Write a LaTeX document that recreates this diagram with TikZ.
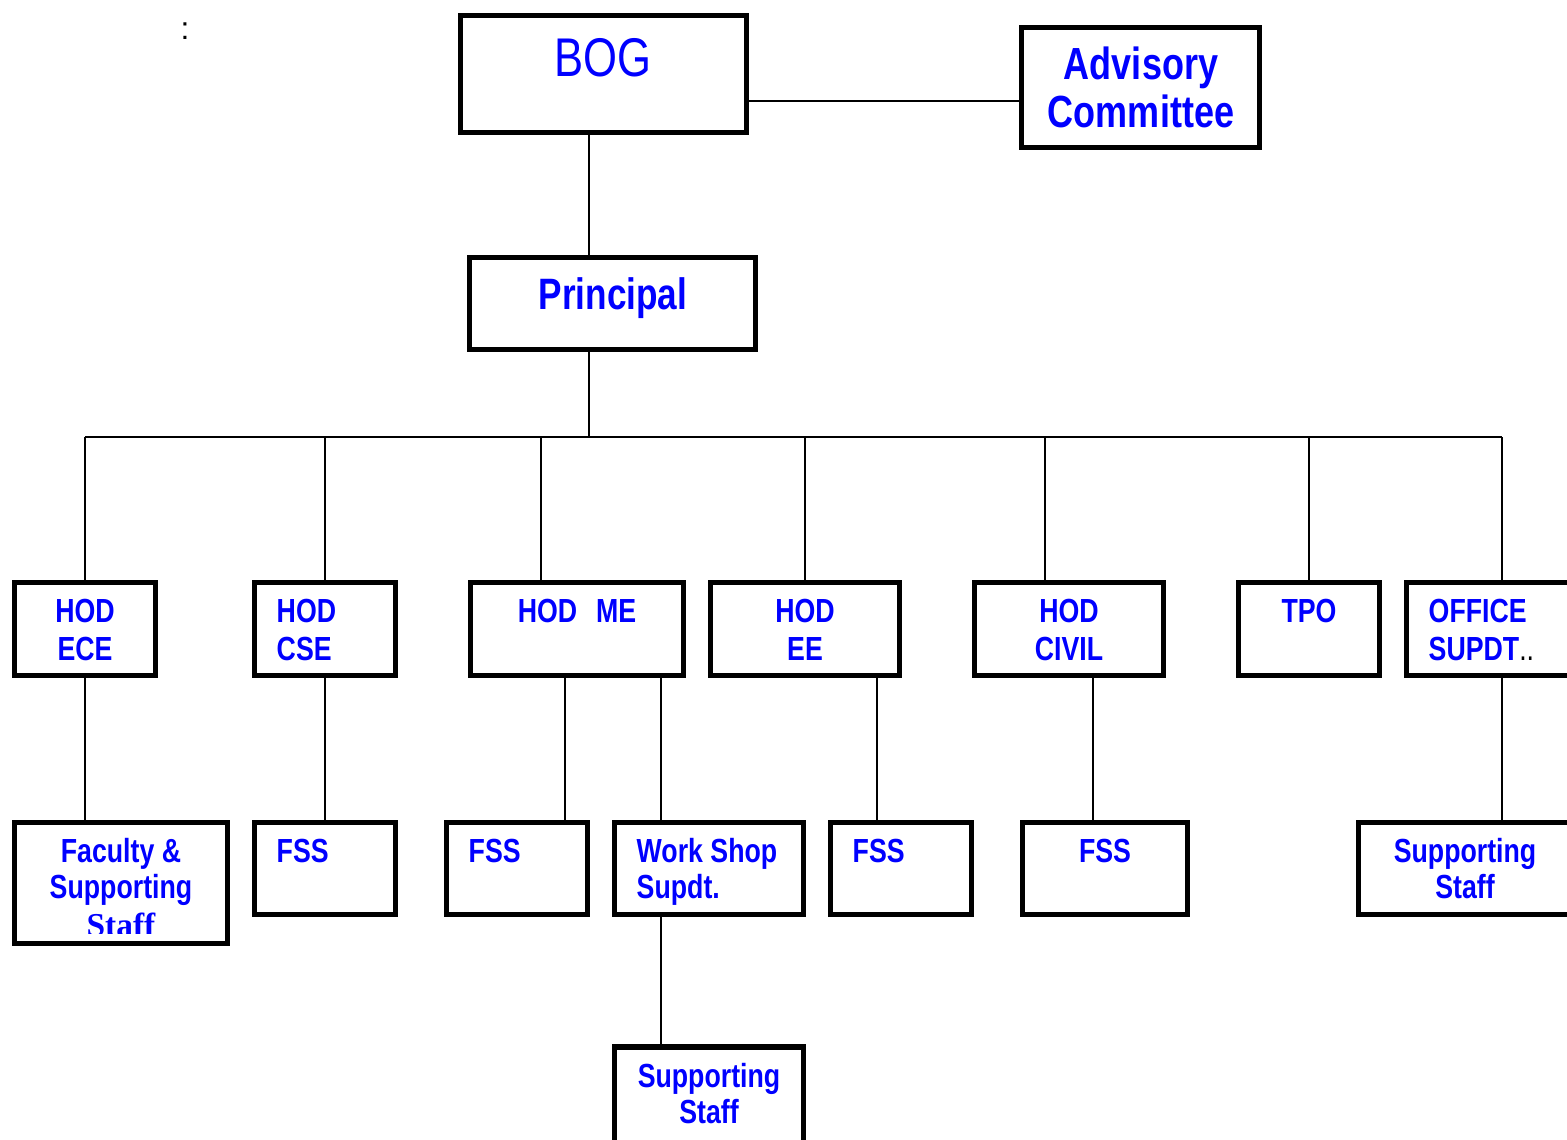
\documentclass[tikz,border=0pt]{standalone}
\usepackage{fontspec}
\setmainfont{Liberation Sans}
\newfontfamily\narrowfont{Liberation Sans}[FakeStretch=0.8]
\newfontfamily\timesfont{Liberation Serif}
\usetikzlibrary{positioning}
\definecolor{orgblue}{RGB}{0,0,255}

\begin{document}
\begin{tikzpicture}[x=0.01cm, y=-0.01cm]
        \tikzstyle{box}=[draw, line width=0.055cm, inner sep=0pt, minimum height=0.93cm]
        \tikzstyle{txt}=[inner sep=0pt, anchor=north, text=orgblue, align=center,
                         font=\narrowfont\bfseries\fontsize{9.5}{10.8}\selectfont]
        \tikzstyle{txtl}=[txt, anchor=north west, align=left]
        \tikzstyle{link}=[line width=0.02cm]

        \useasboundingbox (0,0) rectangle (1567,1139);

        % top
        \node[box, minimum width=2.86cm, minimum height=1.17cm] (bog) at (603.5,74) {};
        \node[box, minimum width=2.38cm, minimum height=1.20cm] (adv) at (1140.5,87.5) {};
        \node[box, minimum width=2.86cm, minimum height=0.92cm] (prin) at (612.5,303.5) {};

        \node (colon) [font=\fontsize{9}{10}\selectfont] at (185,31) {:};
        \node[txt, font=\narrowfont\fontsize{15.5}{18}\selectfont] (bog t) at (603,38) {BOG};
        \node[txt, font=\narrowfont\bfseries\fontsize{12.8}{13.6}\selectfont] (adv t) at (1141,46) {Advisory\\Committee};
        \node[txt, font=\narrowfont\bfseries\fontsize{12.5}{14}\selectfont] (prin t) at (613,277) {Principal};

        % heads
        \node[box, minimum width=1.41cm] (ece)    at (85,629)   {};
        \node[box, minimum width=1.41cm] (cse)    at (325,629)  {};
        \node[box, minimum width=2.13cm] (me)     at (577,629)  {};
        \node[box, minimum width=1.89cm] (ee)     at (805,629)  {};
        \node[box, minimum width=1.89cm] (civil)  at (1069,629) {};
        \node[box, minimum width=1.41cm] (tpo)    at (1309,629) {};
        \node[box, minimum width=1.91cm] (office) at (1502,629) {};

        \node[txt]  (ece t)    at (85,598)   {HOD\\ECE};
        \node[txtl] (cse t)    at (276,598)  {HOD\\CSE};
        \node[txt]  (me t)     at (577,598)  {HOD\hspace{0.19cm}ME};
        \node[txt]  (ee t)     at (805,598)  {HOD\\EE};
        \node[txt]  (civil t)  at (1069,598) {HOD\\CIVIL};
        \node[txt]  (tpo t)    at (1309,598) {TPO};
        \node[txtl] (office t) at (1428,598) {OFFICE\\SUPDT{\mdseries\color{black}..}};

        % staff
        \node[box, minimum width=2.13cm, minimum height=1.21cm] (fac) at (121,883) {};
        \node[box, minimum width=1.41cm, minimum height=0.92cm] (fss1) at (325,868.5)  {};
        \node[box, minimum width=1.41cm, minimum height=0.92cm] (fss2) at (517,868.5)  {};
        \node[box, minimum width=1.89cm, minimum height=0.92cm] (ws)   at (709,868.5)  {};
        \node[box, minimum width=1.41cm, minimum height=0.92cm] (fss3) at (901,868.5)  {};
        \node[box, minimum width=1.65cm, minimum height=0.92cm] (fss4) at (1105,868.5) {};
        \node[box, minimum width=2.39cm, minimum height=0.92cm] (sup1) at (1478,868.5) {};
        \node[box, minimum width=1.89cm, minimum height=1.10cm] (sup2) at (709,1102)   {};

        \begin{scope}
            \clip (20,825) rectangle (222,933);
            \node[txt, font=\narrowfont\bfseries\fontsize{9.5}{10.2}\selectfont] (fac t) at (121,838)
                {Faculty \&\\Supporting\\[0.02cm]{\timesfont Staff}};
        \end{scope}
        \node[txtl] (fss1 t) at (276,838) {FSS};
        \node[txtl] (fss2 t) at (468,838) {FSS};
        \node[txtl, font=\narrowfont\bfseries\fontsize{9.5}{10.2}\selectfont] (ws t) at (636,838) {Work Shop\\Supdt.};
        \node[txtl] (fss3 t) at (852,838) {FSS};
        \node[txt]  (fss4 t) at (1105,838) {FSS};
        \node[txt, font=\narrowfont\bfseries\fontsize{9.5}{10.2}\selectfont] (sup1 t) at (1465,838) {Supporting\\Staff};
        \node[txt, font=\narrowfont\bfseries\fontsize{9.5}{10}\selectfont] (sup2 t) at (709,1063) {Supporting\\Staff};

        % connectors
        \coordinate (spine) at (589,437);
        \coordinate (tie) at (880,101);
        \draw[link] (bog.south -| spine) -- (prin.north -| spine);
        \draw[link] (bog.east |- tie) -- (adv.west |- tie);
        \draw[link] (prin.south -| spine) -- (spine);
        \draw[link] (ece.north |- spine) -- (office.north |- spine);
        \foreach \n in {ece,cse,ee,tpo,office}
            \draw[link] (\n.north |- spine) -- (\n.north);
        \draw[link] ([xshift=-0.36cm]me.north |- spine) -- ([xshift=-0.36cm]me.north);
        \draw[link] ([xshift=-0.24cm]civil.north |- spine) -- ([xshift=-0.24cm]civil.north);

        \draw[link] (ece.south) -- (ece.south |- fac.north);
        \draw[link] (cse.south) -- (fss1.north);
        \draw[link] ([xshift=-0.12cm]me.south) -- ([xshift=-0.12cm]me.south |- fss2.north);
        \draw[link] ([xshift=0.84cm]me.south) -- ([xshift=0.84cm]me.south |- ws.north);
        \draw[link] ([xshift=0.72cm]ee.south) -- ([xshift=0.72cm]ee.south |- fss3.north);
        \draw[link] ([xshift=0.24cm]civil.south) -- ([xshift=0.24cm]civil.south |- fss4.north);
        \draw[link] (office.south) -- (office.south |- sup1.north);
        \draw[link] ([xshift=-0.48cm]ws.south) -- ([xshift=-0.48cm]ws.south |- sup2.north);
    \end{tikzpicture}
\end{document}
